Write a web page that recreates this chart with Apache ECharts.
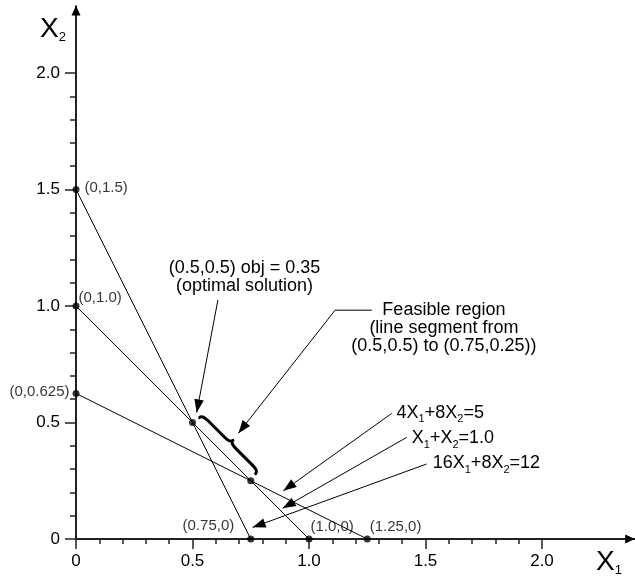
<!DOCTYPE html>
<html>
<head>
<meta charset="utf-8">
<script src="https://cdn.jsdelivr.net/npm/echarts@6/dist/echarts.min.js"></script>
<style>
html, body { margin: 0; padding: 0; background: #fff; }
#chart { width: 635px; height: 576px; }
</style>
</head>
<body>
<div id="chart"></div>
<script>
// constraint lines (end points on the axes)
var constraintNames = ['16X1+8X2=12', 'X1+X2=1.0', '4X1+8X2=5']
var constraintLines = [
  [[0, 1.5], [0.75, 0]],
  [[0, 1.0], [1.0, 0]],
  [[0, 0.625], [1.25, 0]]
]

// marked points and their labels
var cornerPoints = [[0, 1.5], [0, 1.0], [0, 0.625], [0.75, 0], [1.0, 0], [1.25, 0], [0.5, 0.5], [0.75, 0.25]]
var cornerLabels = ['(0,1.5)', '(0,1.0)', '(0,0.625)', '(0.75,0)', '(1.0,0)', '(1.25,0)', '', '']

// optimum and the feasible segment
var optimum = [0.5, 0.5]
var feasibleSegment = [[0.5, 0.5], [0.75, 0.25]]

// axis ticks
var tickValues = [0, 0.5, 1.0, 1.5, 2.0]
var tickLabels = ['0', '0.5', '1.0', '1.5', '2.0']

// annotation texts
var noteTexts = [
  '(0.5,0.5) obj = 0.35\n(optimal solution)',
  'Feasible region\n(line segment from\n(0.5,0.5) to (0.75,0.25))',
  '{m|4X}{s|1}{m|+8X}{s|2}{m|=5}',
  '{m|X}{s|1}{m|+X}{s|2}{m|=1.0}',
  '{m|16X}{s|1}{m|+8X}{s|2}{m|=12}'
]

// ---- layout (kept apart from the values) ----
var pointLabelPlace = [
  ['right', [0, -2]], ['right', [-6, -8]], ['left', [2, -2]],
  ['left', [-8, -13]], ['right', [-7, -12]], ['right', [-6, -12]],
  ['right', [0, 0]], ['right', [0, 0]]
]
var noteAnchors = [[0.723, 1.126], [1.579, 0.906], [1.376, 0.541], [1.441, 0.433], [1.531, 0.326]]
var noteAlign = ['center', 'center', 'left', 'left', 'left']
// arrows: polyline in data units, last point is the tip
var arrowPaths = [
  [[0.609, 1.026], [0.518, 0.543]],
  [[1.269, 0.982], [1.112, 0.982], [0.697, 0.454]],
  [[1.355, 0.539], [0.890, 0.207]],
  [[1.419, 0.436], [0.887, 0.132]],
  [[1.505, 0.322], [0.758, 0.050]]
]
var axisEnds = [[2.4, 0], [0, 2.29]]

var FONT = 'Liberation Sans, Arial, Helvetica, sans-serif'

function head(tip, from, len, half) {
  var dx = tip[0] - from[0], dy = tip[1] - from[1]
  var d = Math.sqrt(dx * dx + dy * dy)
  var ux = dx / d, uy = dy / d
  var bx = tip[0] - ux * len, by = tip[1] - uy * len
  return [[tip[0], tip[1]], [bx - uy * half, by + ux * half], [bx + uy * half, by - ux * half]]
}

function renderAxis(params, api) {
  var a = api.coord([0, 0])
  var b = api.coord(axisEnds[params.dataIndex])
  if (params.dataIndex === 0) a = [a[0] - 1, a[1]]
  else a = [a[0], a[1] + 1]
  return {
    type: 'group',
    children: [
      { type: 'line', shape: { x1: a[0], y1: a[1], x2: b[0], y2: b[1] }, style: { stroke: '#222', lineWidth: 2 } },
      { type: 'polygon', shape: { points: head(b, a, 10, 4.5) }, style: { fill: '#000' } }
    ]
  }
}

function renderArrow(params, api) {
  var pts = arrowPaths[params.dataIndex].map(function (p) { return api.coord(p) })
  var tip = pts[pts.length - 1]
  var prev = pts[pts.length - 2]
  return {
    type: 'group',
    children: [
      { type: 'polyline', shape: { points: pts }, style: { stroke: '#000', lineWidth: 1, fill: null } },
      { type: 'polygon', shape: { points: head(tip, prev, 13, 4.8) }, style: { fill: '#000' } }
    ]
  }
}

function renderBrace(params, api) {
  var a = api.coord(feasibleSegment[0]), b = api.coord(feasibleSegment[1])
  var dx = b[0] - a[0], dy = b[1] - a[1]
  var L = Math.sqrt(dx * dx + dy * dy)
  var ux = dx / L, uy = dy / L
  var nx = uy, ny = -ux
  function p(u, v) { return (a[0] + ux * u + nx * v).toFixed(2) + ' ' + (a[1] + uy * u + ny * v).toFixed(2) }
  var s = 1.5, e = L - 1.5, m = L / 2, base = 8.5, h = 7.5, q = 8
  var d = 'M' + p(s, base) +
    ' Q' + p(s, base + h / 2) + ' ' + p(s + q, base + h / 2) +
    ' L' + p(m - q, base + h / 2) +
    ' Q' + p(m, base + h / 2) + ' ' + p(m, base + h) +
    ' Q' + p(m, base + h / 2) + ' ' + p(m + q, base + h / 2) +
    ' L' + p(e - q, base + h / 2) +
    ' Q' + p(e, base + h / 2) + ' ' + p(e, base)
  return {
    type: 'path',
    shape: { pathData: d },
    style: { fill: null, stroke: '#000', lineWidth: 3, lineCap: 'round', lineJoin: 'round' }
  }
}

function renderNote(params, api) {
  var i = params.dataIndex
  var c = api.coord(noteAnchors[i])
  return {
    type: 'text',
    x: c[0], y: c[1],
    style: {
      text: noteTexts[i],
      fill: '#000',
      fontSize: 18,
      fontFamily: FONT,
      lineHeight: 18,
      align: noteAlign[i],
      verticalAlign: 'middle',
      rich: {
        m: { fontSize: 18, fontFamily: FONT, lineHeight: 24, fill: '#000' },
        s: { fontSize: 11, fontFamily: FONT, lineHeight: 11, verticalAlign: 'bottom', fill: '#000' }
      }
    }
  }
}

var series = []
constraintLines.forEach(function (seg, i) {
  series.push({
    name: constraintNames[i],
    type: 'line',
    data: seg,
    showSymbol: false,
    silent: true,
    lineStyle: { color: '#000', width: 1 },
    z: 3
  })
})
series.push({
  type: 'custom',
  coordinateSystem: 'cartesian2d',
  clip: false,
  silent: true,
  data: axisEnds,
  renderItem: renderAxis,
  z: 2
})
series.push({
  type: 'custom',
  coordinateSystem: 'cartesian2d',
  clip: false,
  silent: true,
  data: arrowPaths.map(function (p) { return p[p.length - 1] }),
  renderItem: renderArrow,
  z: 4
})
series.push({
  type: 'custom',
  coordinateSystem: 'cartesian2d',
  clip: false,
  silent: true,
  data: [optimum],
  renderItem: renderBrace,
  z: 4
})
series.push({
  type: 'custom',
  coordinateSystem: 'cartesian2d',
  clip: false,
  silent: true,
  data: noteAnchors,
  renderItem: renderNote,
  z: 5
})
series.push({
  type: 'scatter',
  symbolSize: 7,
  silent: true,
  itemStyle: { color: '#000' },
  data: cornerPoints.map(function (pt, i) {
    return {
      value: pt,
      label: {
        show: cornerLabels[i] !== '',
        position: pointLabelPlace[i][0],
        offset: pointLabelPlace[i][1],
        color: '#000'
      }
    }
  }),
  label: {
    formatter: function (p) { return cornerLabels[p.dataIndex] },
    color: '#000',
    fontSize: 15,
    fontFamily: FONT,
    textBorderWidth: 0,
    distance: 5
  },
  z: 6
})

function tickText(v) {
  var k = tickValues.indexOf(Math.round(v * 10) / 10)
  return k >= 0 ? tickLabels[k] : ''
}

var chart = echarts.init(document.getElementById('chart'))
chart.setOption({
  animation: false,
  backgroundColor: '#fff',
  grid: { left: 76, right: 93, top: 73, bottom: 37, containLabel: false },
  xAxis: {
    type: 'value',
    min: 0, max: 2, interval: 0.5,
    axisLine: { show: false },
    axisTick: { show: true, length: 10, lineStyle: { color: '#222', width: 1.5 } },
    minorTick: { show: true, splitNumber: 5, length: 5, lineStyle: { color: '#222', width: 1.5 } },
    splitLine: { show: false },
    minorSplitLine: { show: false },
    axisLabel: { color: '#000', fontSize: 17, fontFamily: FONT, margin: 14, formatter: tickText }
  },
  yAxis: {
    type: 'value',
    min: 0, max: 2, interval: 0.5,
    axisLine: { show: false },
    axisTick: { show: true, length: 11, lineStyle: { color: '#222', width: 1.5 } },
    minorTick: { show: true, splitNumber: 5, length: 6, lineStyle: { color: '#222', width: 1.5 } },
    splitLine: { show: false },
    minorSplitLine: { show: false },
    axisLabel: { color: '#000', fontSize: 17, fontFamily: FONT, margin: 16, formatter: tickText }
  },
  graphic: [
    {
      type: 'text', left: 40, top: 15, silent: true,
      style: {
        text: '{a|X}{b|2}', fill: '#000',
        rich: {
          a: { fontSize: 28, fontFamily: FONT, lineHeight: 30, fill: '#000' },
          b: { fontSize: 13, fontFamily: FONT, lineHeight: 12, verticalAlign: 'bottom', fill: '#000' }
        }
      }
    },
    {
      type: 'text', left: 596, top: 548, silent: true,
      style: {
        text: '{a|X}{b|1}', fill: '#000',
        rich: {
          a: { fontSize: 28, fontFamily: FONT, lineHeight: 30, fill: '#000' },
          b: { fontSize: 13, fontFamily: FONT, lineHeight: 12, verticalAlign: 'bottom', fill: '#000' }
        }
      }
    }
  ],
  series: series
})
</script>
</body>
</html>
